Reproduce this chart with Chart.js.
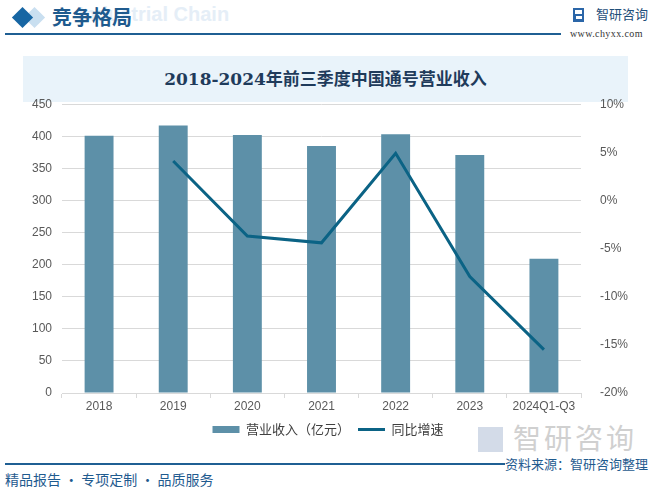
<!DOCTYPE html>
<html>
<head>
<meta charset="utf-8">
<script src="https://cdn.jsdelivr.net/npm/chart.js@4/dist/chart.umd.min.js"></script>
<style>
  body { margin: 0; width: 656px; height: 491px; background: #fff; position: relative; overflow: hidden;
         font-family: "Noto Sans CJK SC", sans-serif; }
  .abs { position: absolute; white-space: nowrap; }
  .dia { position: absolute; width: 15px; height: 15px; transform: rotate(45deg); }
  #wrap { position: absolute; left: 0; top: 86px; width: 656px; height: 364px; }
</style>
</head>
<body>
<!-- header -->
<div class="abs" style="left:78px;top:3px;font:bold 20px 'Liberation Sans';color:#e5eef7;">Industrial Chain</div>
<div class="dia" style="left:27px;top:10px;background:#c9dff0;"></div>
<div class="dia" style="left:15px;top:10px;background:#1766a3;"></div>
<div class="abs" style="left:52px;top:2px;font-size:20px;font-weight:bold;color:#1f5b8e;">竞争格局</div>
<div class="abs" style="left:5px;top:33px;width:556px;height:2px;background:#1f5f93;"></div>
<div class="abs" style="left:573px;top:8px;width:11px;height:14px;background:#2b66a8;"></div>
<div class="abs" style="left:575px;top:10px;width:7px;height:4px;background:#fff;"></div>
<div class="abs" style="left:576px;top:16px;width:6px;height:3px;background:#fff;"></div>
<div class="abs" style="left:596px;top:4px;font-size:13px;color:#1f4e79;">智研咨询</div>
<div class="abs" style="left:570px;top:28px;font:10px 'Liberation Serif';color:#333;letter-spacing:0.4px;">www.chyxx.com</div>

<!-- title banner -->
<div class="abs" style="left:23px;top:56px;width:605px;height:46px;background:#e9f3fa;"></div>
<div class="abs" style="left:23px;top:56px;width:605px;height:46px;line-height:46px;text-align:center;
     font-family:'DejaVu Serif','Noto Sans CJK SC';font-size:17px;font-weight:bold;color:#1f3b5b;">2018-2024年前三季度中国通号营业收入</div>

<!-- big watermark -->
<div class="abs" style="left:478px;top:427px;width:25px;height:25px;background:#d3dbe8;"></div>
<div class="abs" style="left:513px;top:417px;font-size:28px;color:#d0d0d0;letter-spacing:3px;">智研咨询</div>

<div id="wrap"><canvas id="chart"></canvas></div>

<!-- footer -->
<div class="abs" style="left:5px;top:463px;width:500px;height:2px;background:#1f5f93;"></div>
<div class="abs" style="left:505px;top:454px;font-size:13px;color:#1f5b8f;">资料来源：智研咨询整理</div>
<div class="abs" style="left:5px;top:469px;font-size:14px;color:#1f5b8f;">精品报告 · 专项定制 · 品质服务</div>

<script>
// data
const years = ['2018', '2019', '2020', '2021', '2022', '2023', '2024Q1-Q3'];
const revenue = [401, 417, 402, 385, 403, 371, 209];
const growth = [null, 4.1, -3.7, -4.4, 4.9, -7.9, -15.5];

const barColor = '#5d90a8';
const lineColor = '#0b6385';
const tickFont = { family: 'Liberation Sans', size: 12 };

const ctx = document.getElementById('chart').getContext('2d');
const chart = new Chart(ctx, {
  data: {
    labels: years,
    datasets: [
      {
        type: 'line',
        label: '同比增速',
        data: growth,
        yAxisID: 'y2',
        borderColor: lineColor,
        backgroundColor: lineColor,
        borderWidth: 3,
        pointRadius: 0,
        tension: 0,
        order: 0
      },
      {
        type: 'bar',
        label: '营业收入（亿元）',
        data: revenue,
        yAxisID: 'y',
        backgroundColor: barColor,
        categoryPercentage: 1,
        barPercentage: 0.39,
        order: 1
      }
    ]
  },
  options: {
    responsive: true,
    maintainAspectRatio: false,
    animation: false,
    layout: { padding: { top: 5, left: 0, right: 0, bottom: 4 } },
    plugins: {
      tooltip: { enabled: false },
      legend: {
        position: 'bottom',
        reverse: true,
        labels: {
          usePointStyle: true,
          pointStyleWidth: 27,
          boxHeight: 7,
          padding: 8,
          color: '#404040',
          font: { family: 'Noto Sans CJK SC', size: 13 },
          generateLabels(chart) {
            const items = Chart.defaults.plugins.legend.labels.generateLabels(chart);
            items.forEach(it => {
              const ds = chart.data.datasets[it.datasetIndex];
              if (ds.type === 'bar') {
                it.pointStyle = 'rect';
                it.lineWidth = 0;
              } else {
                it.pointStyle = 'line';
                it.lineWidth = 3;
              }
            });
            return items;
          }
        }
      }
    },
    scales: {
      x: {
        grid: { display: true, drawOnChartArea: false, drawTicks: true, tickLength: 5, color: '#d9d9d9' },
        border: { color: '#d9d9d9' },
        ticks: { color: '#595959', font: tickFont, padding: 1, maxRotation: 0 },
        afterFit(s) { s.height = 22; }
      },
      y: {
        position: 'left',
        min: 0,
        max: 450,
        ticks: { stepSize: 50, color: '#595959', font: tickFont, padding: 10 },
        grid: { color: '#d9d9d9', drawTicks: false },
        border: { display: false },
        afterFit(s) { s.width = 62; }
      },
      y2: {
        position: 'right',
        min: -20,
        max: 10,
        ticks: { stepSize: 5, color: '#595959', font: tickFont, padding: 11,
                 callback: v => v + '%' },
        grid: { display: false },
        border: { display: false },
        afterFit(s) { s.width = 75; }
      }
    }
  }
});
</script>
</body>
</html>
